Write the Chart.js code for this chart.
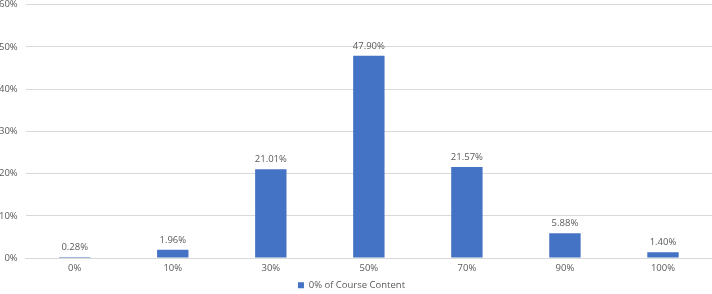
<!DOCTYPE html>
<html>
<head>
<meta charset="utf-8">
<script src="https://cdn.jsdelivr.net/npm/chart.js@4/dist/chart.umd.min.js"></script>
<style>
  html, body { margin: 0; padding: 0; background: #fff; overflow: hidden; }
  #wrap { width: 712px; height: 305px; margin-top: -9px; }
</style>
</head>
<body>
<div id="wrap"><canvas id="chart_courseContent"></canvas></div>
<script>
var categories = ['0%', '10%', '30%', '50%', '70%', '90%', '100%'];
var seriesLabel = '0% of Course Content';
var seriesValues = [0.28, 1.96, 21.01, 47.90, 21.57, 5.88, 1.40];
var yTicks = [0, 10, 20, 30, 40, 50, 60];

var textColor = '#595959';
var fontFamily = "'Open Sans', 'Liberation Sans', sans-serif";

var valueLabels = {
    id: 'valueLabels',
    afterDatasetsDraw: function (chart) {
        var ctx = chart.ctx;
        ctx.save();
        ctx.fillStyle = textColor;
        ctx.font = '9.5px ' + fontFamily;
        ctx.textAlign = 'center';
        ctx.textBaseline = 'bottom';
        chart.getDatasetMeta(0).data.forEach(function (bar, i) {
            ctx.fillText(seriesValues[i].toFixed(2) + '%', bar.x, bar.y - 5);
        });
        ctx.restore();
    }
};

var chart_courseContent = new Chart(document.getElementById('chart_courseContent'), {
    type: 'bar',
    data: {
        labels: categories,
        datasets: [
            {
                label: seriesLabel,
                data: seriesValues,
                backgroundColor: '#4472C4',
                borderWidth: 0,
                categoryPercentage: 1,
                barPercentage: 0.32
            }
        ]
    },
    options: {
        animation: false,
        responsive: true,
        maintainAspectRatio: false,
        layout: { padding: { top: -6, right: 0, left: -9, bottom: -4 } },
        plugins: {
            legend: {
                position: 'bottom',
                labels: {
                    color: textColor,
                    font: { family: fontFamily, size: 9.5 },
                    boxWidth: 6,
                    boxHeight: 6,
                    padding: 3
                }
            },
            tooltip: { enabled: false }
        },
        scales: {
            x: {
                grid: { display: false, drawTicks: false },
                border: { color: '#D9D9D9' },
                ticks: {
                    color: textColor,
                    font: { family: fontFamily, size: 9.5 },
                    padding: 4
                }
            },
            y: {
                min: 0,
                max: 60,
                afterBuildTicks: function (axis) {
                    axis.ticks = yTicks.map(function (v) { return { value: v }; });
                },
                grid: { color: '#D9D9D9', drawTicks: false },
                border: { display: false },
                ticks: {
                    color: textColor,
                    font: { family: fontFamily, size: 9.5 },
                    padding: 8,
                    callback: function (v) { return v + '%'; }
                }
            }
        }
    },
    plugins: [valueLabels]
});
</script>
</body>
</html>
